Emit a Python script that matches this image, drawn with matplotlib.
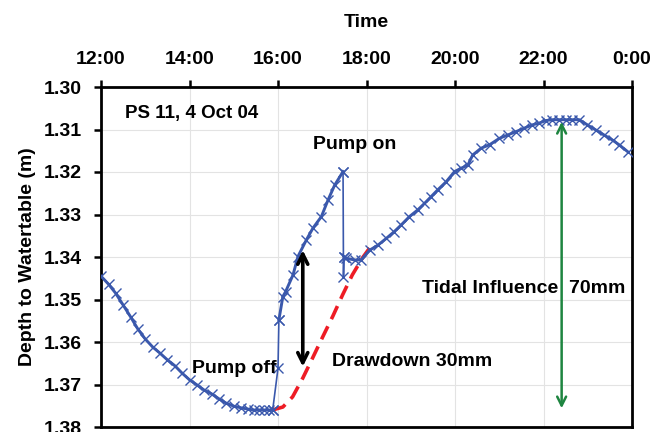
import matplotlib
matplotlib.use('Agg')
import matplotlib.pyplot as plt
import numpy as np

plt.rcParams['font.family'] = ['Liberation Sans', 'DejaVu Sans']
plt.rcParams['font.weight'] = 'bold'

# water table depth (m), time in decimal hours from 12:00
before_hours = [12.00, 12.17, 12.33, 12.50, 12.67, 12.83, 13.00, 13.17, 13.33, 13.50,
                13.67, 13.83, 14.00, 14.17, 14.33, 14.50, 14.67, 14.83, 15.00, 15.17,
                15.33, 15.45, 15.57, 15.68, 15.80, 15.88]
before_depth = [1.3445, 1.3464, 1.3485, 1.3513, 1.3541, 1.3569, 1.3593, 1.3612, 1.3626, 1.3642,
                1.3656, 1.3673, 1.3689, 1.3701, 1.3713, 1.3722, 1.3734, 1.3744, 1.3751, 1.3755,
                1.3758, 1.3760, 1.3760, 1.3760, 1.3760, 1.3760]

recovery_hours = [16.00, 16.02, 16.11, 16.17, 16.34, 16.45, 16.64, 16.79, 16.98, 17.13,
                  17.28, 17.47]
recovery_depth = [1.3662, 1.3548, 1.3493, 1.3482, 1.3442, 1.3399, 1.3360, 1.3332, 1.3305, 1.3266,
                  1.3231, 1.3199]

after_hours = [17.48, 17.49, 17.54, 17.73, 17.88, 18.07, 18.26, 18.45, 18.63, 18.78,
               18.97, 19.16, 19.31, 19.46, 19.61, 19.80, 19.99, 20.14, 20.29, 20.40,
               20.59, 20.78, 21.00, 21.19, 21.38, 21.56, 21.75, 21.90, 22.05, 22.20,
               22.35, 22.50, 22.65, 22.81, 22.99, 23.18, 23.37, 23.56, 23.71, 23.90]
after_depth = [1.3446, 1.3399, 1.3403, 1.3407, 1.3407, 1.3384, 1.3372, 1.3356, 1.3340, 1.3325,
               1.3305, 1.3289, 1.3274, 1.3258, 1.3242, 1.3223, 1.3199, 1.3191, 1.3184, 1.3160,
               1.3144, 1.3136, 1.3121, 1.3113, 1.3105, 1.3097, 1.3089, 1.3085, 1.3079, 1.3077,
               1.3077, 1.3077, 1.3077, 1.3077, 1.3089, 1.3101, 1.3113, 1.3125, 1.3136, 1.3152]

# expected recovery without pumping (red dashed)
trend_hours = [15.87, 16.11, 16.33, 16.56, 16.78, 17.01, 17.24, 17.46, 17.68, 17.91, 18.07]
trend_depth = [1.3760, 1.3753, 1.3729, 1.3685, 1.3638, 1.3588, 1.3539, 1.3489, 1.3442, 1.3402, 1.3379]

tick_hours = [12, 14, 16, 18, 20, 22, 24]
tick_labels = ['12:00', '14:00', '16:00', '18:00', '20:00', '22:00', '0:00']
depth_ticks = [1.30, 1.31, 1.32, 1.33, 1.34, 1.35, 1.36, 1.37, 1.38]

blue = '#3A58AC'
fs = 14

fig = plt.figure(figsize=(6.67, 4.32), dpi=100)
ax = fig.add_axes([101/667, 5/432, 531/667, 340/432])

# thick parts
ax.plot(before_hours, before_depth, color=blue, lw=2.1, marker='x', ms=7.5, mew=1.0, zorder=3)
ax.plot(recovery_hours[1:], recovery_depth[1:], color=blue, lw=2.1, marker='x', ms=7.5, mew=1.0, zorder=3)
ax.plot(after_hours[1:], after_depth[1:], color=blue, lw=2.1, marker='x', ms=7.5, mew=1.0, zorder=3)
# thin jumps at pump off / pump on
ax.plot([before_hours[-1]] + recovery_hours[:2], [before_depth[-1]] + recovery_depth[:2],
        color=blue, lw=1.2, marker='x', ms=7.5, mew=1.0, zorder=3)
ax.plot([recovery_hours[-1]] + after_hours[:2], [recovery_depth[-1]] + after_depth[:2],
        color=blue, lw=1.2, marker='x', ms=7.5, mew=1.0, zorder=3)

ax.plot(trend_hours, trend_depth, color='#EE1C25', lw=2.6, dashes=(4, 2.2), zorder=2)

# drawdown arrow
ax.annotate('', xy=(16.56, 1.3384), xytext=(16.56, 1.3658),
            arrowprops=dict(arrowstyle='<->', color='black', lw=2.6, mutation_scale=18,
                            shrinkA=0, shrinkB=0), zorder=4)
# tidal arrow
ax.annotate('', xy=(22.41, 1.3082), xytext=(22.41, 1.3756),
            arrowprops=dict(arrowstyle='<->', color='#1E8540', lw=1.8, mutation_scale=16,
                            shrinkA=0, shrinkB=0), zorder=4)

ax.text(12.55, 1.3062, 'PS 11, 4 Oct 04', fontsize=13.5, fontweight='bold', va='center', ha='left')
ax.text(16.78, 1.3136, 'Pump on', fontsize=fs, fontweight='bold', va='center', ha='left')
ax.text(14.05, 1.3662, 'Pump off', fontsize=fs, fontweight='bold', va='center', ha='left')
ax.text(17.23, 1.3646, 'Drawdown 30mm', fontsize=fs, fontweight='bold', va='center', ha='left')
ax.text(19.26, 1.3474, 'Tidal Influence  70mm', fontsize=fs, fontweight='bold', va='center', ha='left')

ax.set_xlim(12, 24)
ax.set_ylim(1.38, 1.30)
ax.set_xticks(tick_hours)
ax.set_xticklabels(tick_labels)
ax.set_yticks(depth_ticks)
ax.set_yticklabels(['%.2f' % v for v in depth_ticks])
ax.xaxis.tick_top()
ax.xaxis.set_label_position('top')
ax.tick_params(axis='both', labelsize=fs, width=1.8, length=5, direction='out')
ax.tick_params(axis='x', pad=9)
ax.tick_params(axis='y', pad=9)
for lab in ax.get_xticklabels() + ax.get_yticklabels():
    lab.set_fontweight('bold')
for sp in ax.spines.values():
    sp.set_linewidth(2.0)
ax.grid(True, color='#e3e3e3', lw=0.8)
ax.set_axisbelow(True)

ax.set_xlabel('Time', fontsize=fs, fontweight='bold', labelpad=17)
ax.set_ylabel('Depth to Watertable (m)', fontsize=fs, fontweight='bold', labelpad=5)

fig.savefig('out.png', dpi=100)
